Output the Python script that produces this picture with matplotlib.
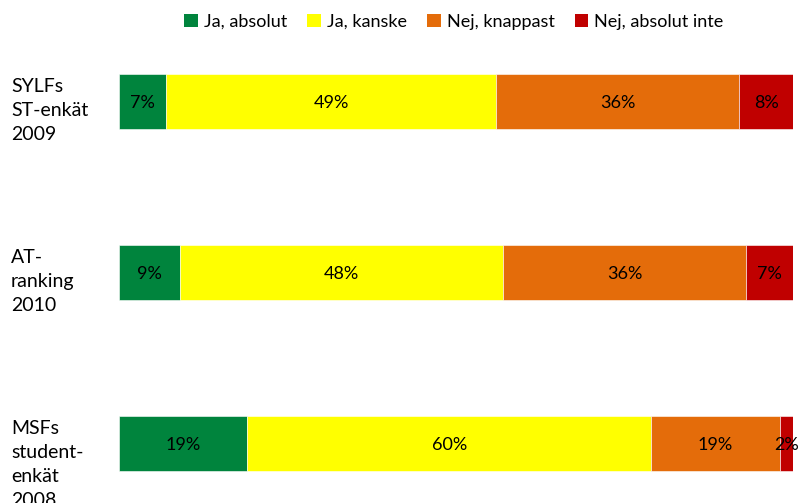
import matplotlib
matplotlib.use("Agg")
import matplotlib.pyplot as plt
import numpy as np

plt.rcParams['font.family'] = ['Lato', 'DejaVu Sans']

categories = ["SYLFs\nST-enkät\n2009", "AT-\nranking\n2010", "MSFs\nstudent-\nenkät\n2008"]
series_names = ["Ja, absolut", "Ja, kanske", "Nej, knappast", "Nej, absolut inte"]
values = {
    "Ja, absolut": [7, 9, 19],
    "Ja, kanske": [49, 48, 60],
    "Nej, knappast": [36, 36, 19],
    "Nej, absolut inte": [8, 7, 2],
}
colors = ["#00843D", "#FFFF00", "#E46C0A", "#C00000"]

W, H = 799, 503
fig = plt.figure(figsize=(W / 100, H / 100), dpi=100)
ax = fig.add_axes([119 / W, 0, (793 - 119) / W, (503 - 16) / H])

y = np.arange(len(categories))
left = np.zeros(len(categories))
for name, c in zip(series_names, colors):
    v = np.array(values[name], dtype=float)
    ax.barh(y, v, left=left, height=0.32, color=c, label=name,
            edgecolor="white", linewidth=0.4)
    for yi, li, vi in zip(y, left, v):
        ax.text(li + vi / 2, yi + 0.01, f"{int(vi)}%", ha="center", va="center",
                fontsize=13, color="black")
    left += v

ax.set_xlim(0, 100)
ax.set_ylim(2.348, -0.5)
ax.axis("off")

for yi, lab in zip(y, categories):
    ax.text(-108 / 674 * 100, yi - 0.135, lab, ha="left", va="top",
            fontsize=14, linespacing=1.5, color="black")

leg = fig.legend(loc="center", bbox_to_anchor=(454 / W, 1 - 22 / H), ncol=4,
                 frameon=False, fontsize=13, handlelength=0.75, handleheight=0.75,
                 handletextpad=0.35, columnspacing=1.1)
for h in leg.legend_handles:
    h.set_linewidth(0)

fig.savefig("out.png", dpi=100)
